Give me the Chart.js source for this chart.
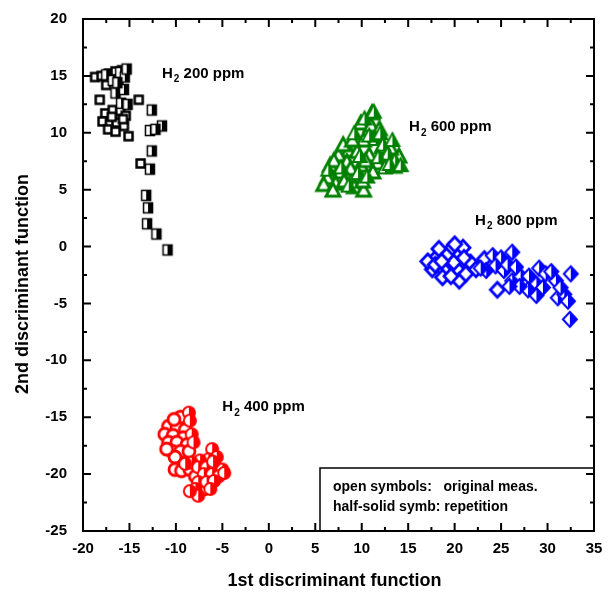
<!DOCTYPE html>
<html>
<head>
<meta charset="utf-8">
<script src="https://cdn.jsdelivr.net/npm/chart.js@4"></script>
<style>
  body { margin: 0; background: #fff; }
  canvas { display: block; }
</style>
</head>
<body>
<canvas id="chart" width="611" height="597"></canvas>
<script>
// axis ticks
const xTicks = [-20, -15, -10, -5, 0, 5, 10, 15, 20, 25, 30, 35];
const yTicks = [-25, -20, -15, -10, -5, 0, 5, 10, 15, 20];

// H2 200 ppm (black squares)
const h200Open = [[-18.7,14.9],[-18.0,15.0],[-17.2,15.2],[-16.5,15.4],[-15.8,15.5],[-17.5,14.2],[-16.2,14.0],[-18.2,12.9],[-14.0,12.9],[-17.6,11.7],[-16.8,12.0],[-16.0,11.9],[-15.4,11.5],[-17.9,11.0],[-17.1,10.8],[-16.4,10.9],[-15.6,10.6],[-17.3,10.3],[-16.5,10.1],[-15.7,11.2],[-15.1,9.7],[-13.8,7.3],[-16.9,11.4]];
const h200Half = [[-17.5,15.1],[-16.8,14.6],[-16.0,15.3],[-15.5,14.9],[-16.5,13.5],[-15.6,13.8],[-15.9,12.6],[-15.2,12.5],[-16.3,14.4],[-15.3,15.6],[-12.6,12.0],[-11.5,10.6],[-12.8,10.2],[-12.2,10.3],[-12.6,8.4],[-12.8,6.8],[-13.2,4.5],[-13.0,3.4],[-13.1,2.0],[-12.1,1.1],[-10.9,-0.3]];

// H2 600 ppm (green triangles)
const h600Open = [[11.1,11.8],[9.9,10.9],[11.0,10.7],[11.9,10.4],[10.2,9.4],[8.6,8.5],[7.5,8.1],[9.5,8.4],[10.8,8.1],[8.4,7.5],[9.9,7.2],[6.6,7.2],[7.7,6.6],[9.2,6.3],[6.3,6.1],[5.9,5.5],[7.2,5.6],[8.1,5.8],[9.2,5.3],[10.2,5.0],[10.1,5.8],[8.8,6.9],[11.7,7.4],[13.5,7.1],[14.0,8.0],[13.1,8.7],[12.2,8.8],[7.0,7.6],[8.0,9.0],[9.0,9.4],[6.9,5.0],[11.2,6.6],[10.4,7.6]];
const h600Half = [[11.5,9.5],[12.3,9.0],[12.8,8.2],[13.6,7.6],[11.8,7.9],[12.5,7.0],[10.8,9.8],[9.2,10.0],[10.3,11.3],[11.3,11.9],[13.0,7.3],[7.8,7.0],[9.6,6.5],[10.6,6.2],[8.6,5.4],[6.4,6.8],[14.2,7.2],[12.0,10.0],[13.3,9.4],[9.8,8.0]];

// H2 800 ppm (blue diamonds)
const h800Open = [[18.0,-1.0],[19.4,-0.4],[20.9,-0.1],[19.1,-0.8],[17.6,-2.0],[18.9,-2.1],[20.3,-2.0],[21.7,-1.4],[20.5,-3.0],[18.7,-2.7],[19.9,-1.4],[17.1,-1.3],[18.3,-0.2],[21.2,-2.4],[19.6,-2.6],[17.9,-1.6],[23.2,-1.1],[24.6,-3.8],[22.3,-2.0],[20.0,0.2],[18.6,-1.3],[21.0,-1.0]];
const h800Half = [[24.1,-0.8],[25.0,-1.0],[26.2,-0.5],[24.4,-1.7],[23.4,-2.1],[25.3,-2.1],[26.2,-3.0],[27.1,-2.6],[28.0,-2.6],[29.1,-1.9],[29.8,-2.4],[28.8,-3.3],[28.8,-4.3],[27.9,-3.8],[30.9,-3.0],[31.1,-4.5],[31.8,-4.2],[32.5,-2.4],[32.2,-4.8],[32.4,-6.4],[22.8,-1.9],[25.7,-1.6],[31.4,-3.6],[27.0,-3.5],[30.4,-2.2],[29.5,-3.6],[26.6,-1.8],[25.9,-3.5]];

// H2 400 ppm (red circles)
const h400Open = [[-9.5,-15.0],[-10.8,-15.8],[-9.9,-15.9],[-9.0,-16.1],[-11.2,-16.5],[-10.3,-16.6],[-9.2,-16.8],[-10.8,-17.2],[-9.9,-17.2],[-8.8,-17.4],[-10.4,-18.0],[-9.5,-18.0],[-8.6,-18.0],[-10.1,-18.5],[-10.1,-19.6],[-9.4,-19.7],[-8.5,-19.6],[-7.9,-20.2],[-7.0,-21.3],[-10.2,-15.2],[-11.0,-17.8]];
const h400Half = [[-8.6,-14.6],[-8.5,-15.3],[-8.3,-16.5],[-8.1,-17.2],[-6.1,-17.8],[-5.6,-18.5],[-6.5,-18.7],[-7.4,-18.8],[-8.3,-19.0],[-9.0,-19.1],[-7.6,-19.4],[-6.7,-19.4],[-5.8,-19.3],[-5.0,-19.6],[-7.0,-20.0],[-6.1,-20.0],[-5.4,-20.2],[-7.6,-20.7],[-6.7,-20.7],[-5.9,-20.6],[-7.9,-21.3],[-6.3,-21.3],[-7.6,-21.9],[-8.5,-21.5],[-4.8,-19.9],[-6.0,-18.9]];

const groupLabels = [
  { x: -11.5, y: 15.2, text: '200 ppm' },
  { x: 15.1, y: 10.5, text: '600 ppm' },
  { x: 22.2, y: 2.3, text: '800 ppm' },
  { x: -5.0, y: -14.1, text: '400 ppm' }
];

const FONT = '"Liberation Sans", Arial, sans-serif';

// build a marker picture: open (white fill) or half-solid (right half filled)
function marker(shape, color, half, w, h, lw) {
  const c = document.createElement('canvas');
  c.width = Math.ceil(w + lw * 2 + 2);
  c.height = Math.ceil(h + lw * 2 + 2);
  const g = c.getContext('2d');
  const cx = c.width / 2, cy = c.height / 2;
  const path = () => {
    g.beginPath();
    if (shape === 'square') g.rect(cx - w / 2, cy - h / 2, w, h);
    else if (shape === 'triangle') {
      g.moveTo(cx, cy - h / 2); g.lineTo(cx + w / 2, cy + h / 2); g.lineTo(cx - w / 2, cy + h / 2); g.closePath();
    } else if (shape === 'diamond') {
      g.moveTo(cx, cy - h / 2); g.lineTo(cx + w / 2, cy); g.lineTo(cx, cy + h / 2); g.lineTo(cx - w / 2, cy); g.closePath();
    } else g.arc(cx, cy, w / 2, 0, Math.PI * 2);
  };
  path();
  g.fillStyle = '#fff';
  g.fill();
  if (half) {
    g.save();
    g.beginPath();
    g.rect(cx, 0, c.width, c.height);
    g.clip();
    path();
    g.fillStyle = color;
    g.fill();
    g.restore();
  }
  path();
  g.lineJoin = 'miter';
  g.lineWidth = lw;
  g.strokeStyle = color;
  g.stroke();
  return c;
}

function ds(data, style) {
  return {
    data: data.map(p => ({ x: p[0], y: p[1] })),
    pointStyle: style,
    pointRadius: 6,
    showLine: false
  };
}

const framePlugin = {
  id: 'frame',
  afterDatasetsDraw(chart) {
    const { ctx, chartArea: a, scales: { x, y } } = chart;
    ctx.save();
    // group labels with subscript
    ctx.fillStyle = '#000';
    ctx.textBaseline = 'middle';
    groupLabels.forEach(l => {
      const px = x.getPixelForValue(l.x), py = y.getPixelForValue(l.y);
      ctx.font = 'bold 15px ' + FONT;
      ctx.textAlign = 'left';
      ctx.fillText('H', px, py);
      const hw = ctx.measureText('H').width;
      ctx.font = 'bold 10px ' + FONT;
      ctx.fillText('2', px + hw + 1, py + 6);
      const sw = ctx.measureText('2').width;
      ctx.font = 'bold 15px ' + FONT;
      ctx.fillText(' ' + l.text, px + hw + sw + 1, py);
    });
    // note box
    const bx = a.right - 274, by = a.bottom - 63;
    ctx.fillStyle = '#fff';
    ctx.fillRect(bx, by, a.right - bx, a.bottom - by);
    ctx.lineWidth = 1.5;
    ctx.strokeStyle = '#000';
    ctx.strokeRect(bx, by, a.right - bx, a.bottom - by);
    ctx.fillStyle = '#000';
    ctx.font = 'bold 14px ' + FONT;
    ctx.fillText('open symbols:   original meas.', bx + 13, by + 19);
    ctx.fillText('half-solid symb: repetition', bx + 13, by + 39);
    // frame
    ctx.lineWidth = 2;
    ctx.strokeRect(a.left, a.top, a.right - a.left, a.bottom - a.top);
    // inward ticks, major + minor
    ctx.beginPath();
    for (let v = -20; v <= 35; v += 2.5) {
      const p = x.getPixelForValue(v), len = v % 5 === 0 ? 8 : 4;
      ctx.moveTo(p, a.bottom); ctx.lineTo(p, a.bottom - len);
      ctx.moveTo(p, a.top); ctx.lineTo(p, a.top + len);
    }
    for (let v = -25; v <= 20; v += 2.5) {
      const p = y.getPixelForValue(v), len = v % 5 === 0 ? 8 : 4;
      ctx.moveTo(a.left, p); ctx.lineTo(a.left + len, p);
      ctx.moveTo(a.right, p); ctx.lineTo(a.right - len, p);
    }
    ctx.stroke();
    // axis titles
    ctx.font = 'bold 18px ' + FONT;
    ctx.textAlign = 'center';
    ctx.fillText('1st discriminant function', (a.left + a.right) / 2 - 4, 581);
    ctx.translate(23, 284);
    ctx.rotate(-Math.PI / 2);
    ctx.fillText('2nd discriminant function', 0, 0);
    ctx.restore();
  }
};

new Chart(document.getElementById('chart').getContext('2d'), {
  type: 'scatter',
  data: {
    datasets: [
      ds(h200Half, marker('square', '#000', true, 9, 10, 1.5)),
      ds(h200Open, marker('square', '#000', false, 8, 8, 2.5)),
      ds(h600Half, marker('triangle', '#008000', true, 14, 13, 2)),
      ds(h600Open, marker('triangle', '#008000', false, 14, 13, 2.8)),
      ds(h800Half, marker('diamond', '#0000ff', true, 14, 15, 2)),
      ds(h800Open, marker('diamond', '#0000ff', false, 14, 15, 2.8)),
      ds(h400Half, marker('circle', '#ff0000', true, 12, 12, 2)),
      ds(h400Open, marker('circle', '#ff0000', false, 12, 12, 2.8))
    ]
  },
  options: {
    responsive: false,
    animation: false,
    layout: { padding: { top: 19, right: 17, left: 0, bottom: 0 } },
    plugins: { legend: { display: false }, tooltip: { enabled: false } },
    scales: {
      x: {
        type: 'linear',
        min: -20, max: 35,
        afterBuildTicks: s => { s.ticks = xTicks.map(v => ({ value: v })); },
        afterFit: s => { s.height = 66; s.paddingLeft = 0; s.paddingRight = 0; },
        grid: { display: false, drawTicks: false },
        border: { display: false },
        ticks: { color: '#000', padding: 9, font: { family: FONT, size: 15, weight: 'bold' } }
      },
      y: {
        type: 'linear',
        min: -25, max: 20,
        afterBuildTicks: s => { s.ticks = yTicks.map(v => ({ value: v })); },
        afterFit: s => { s.width = 83; s.paddingTop = 0; s.paddingBottom = 0; },
        grid: { display: false, drawTicks: false },
        border: { display: false },
        ticks: { color: '#000', padding: 16, font: { family: FONT, size: 15, weight: 'bold' } }
      }
    }
  },
  plugins: [framePlugin]
});
</script>
</body>
</html>
